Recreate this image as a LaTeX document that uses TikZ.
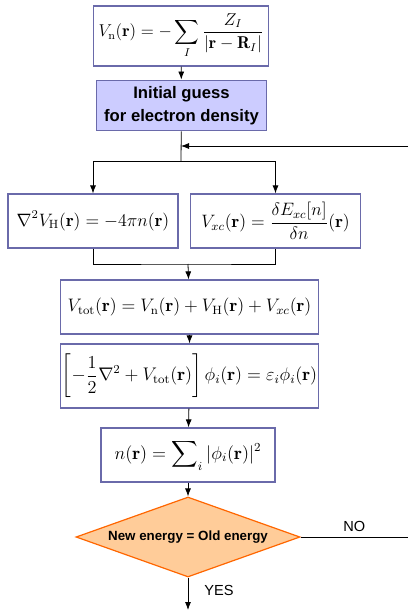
\documentclass[tikz,border=0pt,12pt]{standalone}
\usepackage{amsmath, amssymb}
\usepackage{graphicx}
\usepackage{fontspec}
\setsansfont{Liberation Sans}
\usepackage{tikz}
\usetikzlibrary{arrows.meta, shapes.geometric}

\definecolor{boxline}{HTML}{6A6AAA}
\definecolor{boxfill}{HTML}{CCCCFF}
\definecolor{decline}{HTML}{FF6600}
\definecolor{decfill}{HTML}{FFCC99}

% math a bit larger than the body size
\newcommand{\bigeq}[2][1.15]{\scalebox{#1}{$\displaystyle #2$}}

\tikzset{
  eqbox/.style={draw=boxline, line width=0.9pt, inner sep=0pt, align=center},
  guessbox/.style={eqbox, fill=boxfill, font=\sffamily\bfseries\fontsize{12.5}{17}\selectfont},
  decbox/.style={diamond, aspect=2.8, draw=decline, fill=decfill, line width=0.9pt, inner sep=0pt,
    font=\sffamily\bfseries\footnotesize},
  flow/.style={-{Latex[length=6pt,width=4.5pt]}, line width=0.6pt},
  link/.style={line width=0.6pt}
}

\begin{document}
\begin{tikzpicture}[x=0.75pt, y=-0.75pt]
  \useasboundingbox (0,0) rectangle (408,610);
  % boxes of the loop
  \node[eqbox, minimum width=131pt, minimum height=45pt] (vn) at (181,36)
    {\bigeq[1.07]{V_{\mathrm{n}}(\mathbf{r}) = -\sum_I \frac{Z_I}{|\mathbf{r}-\mathbf{R}_I|}}};
  \node[guessbox, minimum width=128pt, minimum height=38pt] (guess) at (181.5,105.5)
    {Initial guess\\for electron density};
  \node[eqbox, minimum width=127.5pt, minimum height=40.5pt] (hart) at (93,221)
    {\bigeq[1.12]{\nabla^2 V_{\mathrm{H}}(\mathbf{r}) = -4\pi n(\mathbf{r})}};
  \node[eqbox, minimum width=128pt, minimum height=40.5pt] (xc) at (275.5,221)
    {\bigeq[1.12]{V_{xc}(\mathbf{r}) = \frac{\delta E_{xc}[n]}{\delta n}(\mathbf{r})}};
  \node[eqbox, minimum width=194pt, minimum height=40.5pt] (vtot) at (189.5,307)
    {\bigeq[1.13]{V_{\mathrm{tot}}(\mathbf{r}) = V_{\mathrm{n}}(\mathbf{r}) + V_{\mathrm{H}}(\mathbf{r}) + V_{xc}(\mathbf{r})}};
  \node[eqbox, minimum width=194pt, minimum height=48pt] (ks) at (189.5,376)
    {\bigeq[1.14]{\left[-\frac{1}{2}\nabla^2 + V_{\mathrm{tot}}(\mathbf{r})\right]\phi_i(\mathbf{r}) = \varepsilon_i\phi_i(\mathbf{r})}};
  \node[eqbox, minimum width=130.5pt, minimum height=40.5pt] (dens) at (188,455)
    {\bigeq{n(\mathbf{r}) = \sum\nolimits_i |\phi_i(\mathbf{r})|^2}};
  \node[decbox, minimum width=168pt, minimum height=60pt] (dec) at (188,537)
    {New energy = Old energy};

  % helper points
  \coordinate (fork) at (181,161);
  \coordinate (back) at (181,146);
  \coordinate (loop) at (408,146);
  \coordinate (join) at (188,264);
  \coordinate (no) at (408,537);
  \coordinate (yes) at (188,610);

  % arrows
  \draw[flow] (vn) -- (guess);
  \draw[link] (guess) -- (fork);
  \draw[flow] (loop) -- (back);
  \draw[link] (fork -| hart) -- (fork -| xc);
  \draw[flow] (fork -| hart) -- (hart);
  \draw[flow] (fork -| xc) -- (xc);
  \draw[link] (hart.south) |- (join) -| (xc.south);
  \draw[flow] (join) -- (vtot);
  \draw[flow] (vtot) -- (ks);
  \draw[flow] (ks) -- (dens);
  \draw[flow] (dens) -- (dec);
  \draw[link] (dec.east) -- node[above, pos=0.5, font=\sffamily\small] {NO} (no);
  \draw[flow] (dec.south) -- node[right, pos=0.4, xshift=8pt, font=\sffamily\small] {YES} (yes);
\end{tikzpicture}
\end{document}
